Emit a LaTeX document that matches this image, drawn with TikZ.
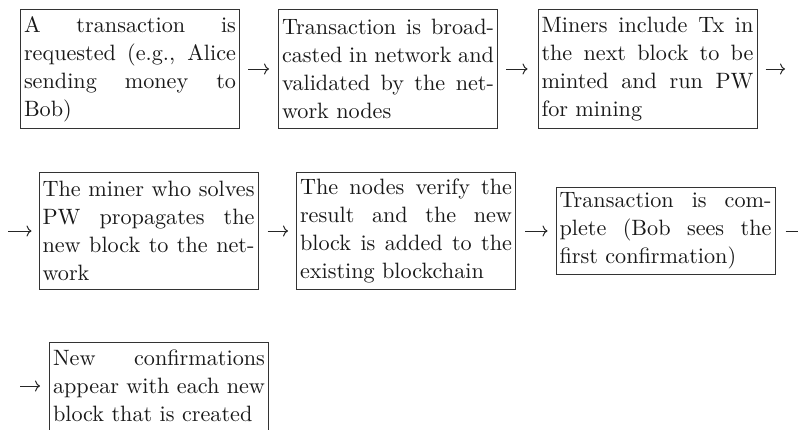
\documentclass[tikz,border=0pt]{standalone}
\usepackage{fontspec}
\setmainfont{lmroman10-regular.otf}
\usetikzlibrary{arrows.meta}
\begin{document}
\begin{tikzpicture}[x=1pt,y=-1pt,
  stepbox/.style={draw=black!80, line width=1pt, inner xsep=3.5pt, inner ysep=0pt,
    text width=212pt, align=justify, text=black!90,
    font=\fontsize{22.2pt}{28pt}\selectfont},
  flow/.style={-{To[length=5pt,width=11pt]}, line width=1pt, draw=black!85}]
\useasboundingbox (0,0) rectangle (798,429);
% row 1
\node[stepbox, minimum height=119pt] (b1) at (130,69)
  {A transaction is\linebreak requested (e.g., Alice\linebreak sending money to\linebreak Bob)};
\node[stepbox, minimum height=119pt] (b2) at (388,69)
  {Transaction is broad-\linebreak casted in network and\linebreak validated by the net-\linebreak work nodes};
\node[stepbox, minimum height=119pt] (b3) at (647.5,69)
  {Miners include Tx in\linebreak the next block to be\linebreak minted and run PW\linebreak for mining};
\coordinate (e1) at (785,69);
% row 2
\coordinate (s2) at (8,231);
\node[stepbox, minimum height=117pt] (b4) at (148.5,231)
  {The miner who solves\linebreak PW propagates the\linebreak new block to the net-\linebreak work};
\node[stepbox, minimum height=117pt] (b5) at (406,231)
  {The nodes verify the\linebreak result and the new\linebreak block is added to the\linebreak existing blockchain};
\node[stepbox, minimum height=87pt] (b6) at (665.5,231)
  {Transaction is com-\linebreak plete (Bob sees the\linebreak first confirmation)};
\coordinate (e2) at (812,231);
% row 3
\coordinate (s3) at (20,386);
\node[stepbox, minimum height=88pt] (b7) at (159,386)
  {New confirmations\linebreak appear with each new\linebreak block that is created};
% connectors
\draw[flow, shorten <=8pt, shorten >=9pt] (b1.east) -- (b2.west);
\draw[flow, shorten <=8pt, shorten >=10pt] (b2.east) -- (b3.west);
\draw[flow, shorten <=8pt] (b3.east) -- (e1);
\draw[flow, shorten >=7pt] (s2) -- (b4.west);
\draw[flow, shorten <=9pt, shorten >=8pt] (b4.east) -- (b5.west);
\draw[flow, shorten <=9pt, shorten >=8pt] (b5.east) -- (b6.west);
\draw[flow, shorten <=10pt] (b6.east) -- (e2);
\draw[flow, shorten >=9pt] (s3) -- (b7.west);
\end{tikzpicture}
\end{document}
